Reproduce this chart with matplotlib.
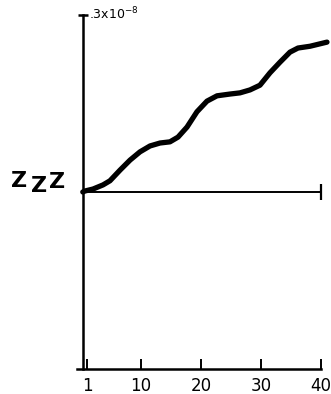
import matplotlib
matplotlib.use('Agg')
import matplotlib.pyplot as plt

# curve (y in units of 1e-8)
x = [0.3, 0.67, 2.0, 3.67, 4.83, 6.5, 8.17, 9.83, 11.5, 13.17, 14.83,
     16.17, 17.67, 19.33, 21.0, 22.67, 24.83, 26.5, 28.17, 29.83, 31.5,
     33.17, 34.83, 36.17, 38.17, 41.0]
zzz = [0.0, 0.0017, 0.005, 0.012, 0.019, 0.037, 0.054, 0.068, 0.078, 0.083,
       0.085, 0.093, 0.110, 0.136, 0.154, 0.163, 0.166, 0.168, 0.173, 0.181,
       0.202, 0.220, 0.237, 0.244, 0.247, 0.254]
xticks = [1, 10, 20, 30, 40]
ymax = 0.3

fig = plt.figure(figsize=(3.31, 3.94), dpi=100)
ax = fig.add_axes([0, 0, 1, 1])
ax.set_xlim(-13.5, 41.67)
ax.set_ylim(-0.3424, 0.3254)
ax.patch.set_alpha(0)

ax.plot(x, zzz, color='black', lw=3.8, solid_capstyle='round',
        solid_joinstyle='round')

# zero line with end bar
ax.hlines(0, 0.3, 40, color='black', lw=1.4)
ax.plot([40], [0], marker='|', ms=11, mew=1.6, color='black')

for s in ['top', 'right']:
    ax.spines[s].set_visible(False)
ax.spines['left'].set_position(('data', 0.3))
ax.spines['left'].set_bounds(-ymax, ymax)
ax.spines['left'].set_linewidth(1.8)
ax.spines['bottom'].set_position(('data', -ymax))
ax.spines['bottom'].set_bounds(-0.7, 40)
ax.spines['bottom'].set_linewidth(1.8)

ax.set_xticks(xticks)
ax.set_xticklabels([str(t) for t in xticks])
ax.tick_params(axis='x', direction='in', length=7, width=1.4, pad=6,
               labelsize=12)
ax.set_yticks([ymax])
ax.set_yticklabels([''])
ax.tick_params(axis='y', direction='inout', length=7, width=1.8)

ax.text(1.3, ymax + 0.002, '.3x10$^{-8}$', fontsize=9, va='center', ha='left')
# hand-lettered Z_zz label
for zx, zy in [(-11.7, 0.0085), (-8.4, 0.0), (-5.3, 0.0068)]:
    ax.text(zx, zy, 'Z', fontsize=16, fontweight='bold', ha='left',
            va='baseline')

fig.savefig('out.png', dpi=100)
